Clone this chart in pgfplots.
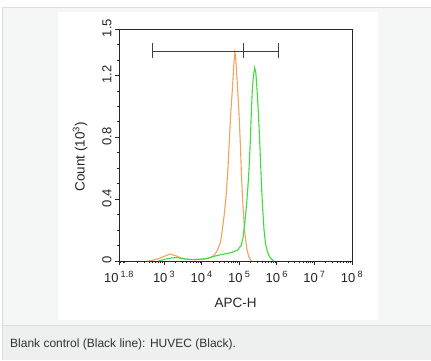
\documentclass[border=0pt]{standalone}
\usepackage{fontspec}
\setmainfont{Liberation Sans}
\usepackage{pgfplots}
\pgfplotsset{compat=1.18}
\definecolor{panelbg}{HTML}{F5F6F6}
\definecolor{panelline}{HTML}{DCDEDE}
\definecolor{capbg}{HTML}{EEEFEF}
\definecolor{orangecurve}{HTML}{F4A35E}
\definecolor{greencurve}{HTML}{3EDC3E}
\definecolor{txt}{HTML}{333333}
\begin{document}
\begin{tikzpicture}
\useasboundingbox (0pt,0pt) rectangle (431pt,360pt);
\fill[white] (0pt,0pt) rectangle (431pt,360pt);
% outer panel (image y 7..325)
\fill[panelbg] (2.5pt,35pt) rectangle (431pt,353pt);
\draw[panelline, line width=0.8pt] (2.5pt,35pt) -- (2.5pt,353pt) -- (431pt,353pt);
% caption band (image y 325..360)
\fill[capbg] (2.5pt,0pt) rectangle (431pt,35pt);
\draw[panelline, line width=0.8pt] (2.5pt,35pt) -- (431pt,35pt);
\draw[panelline, line width=0.8pt] (2.5pt,0pt) -- (2.5pt,35pt);
% white chart region (image x 58..378, y 12..320)
\fill[white] (58pt,40pt) rectangle (378pt,348pt);
\node[anchor=base west, text=txt, font=\fontsize{12}{14}\selectfont, inner sep=0pt] at (10pt,13pt) {Blank control (Black line): HUVEC (Black).};
\begin{axis}[
  at={(119pt,99pt)}, anchor=south west,
  scale only axis, width=233pt, height=232pt,
  xmode=log, xmin=63.0957, xmax=1e8,
  ymin=0, ymax=1.5,
  axis line style={black!85, line width=0.8pt},
  xtick={63.0957,1e3,1e4,1e5,1e6,1e7,1e8},
  xticklabels={10\,\textsuperscript{1.8},10\,\textsuperscript{3},10\,\textsuperscript{4},10\,\textsuperscript{5},10\,\textsuperscript{6},10\,\textsuperscript{7},10\,\textsuperscript{8}},
  minor xtick={70,80,90,200,300,400,500,600,700,800,900,2000,3000,4000,5000,6000,7000,8000,9000,2e4,3e4,4e4,5e4,6e4,7e4,8e4,9e4,2e5,3e5,4e5,5e5,6e5,7e5,8e5,9e5,2e6,3e6,4e6,5e6,6e6,7e6,8e6,9e6,2e7,3e7,4e7,5e7,6e7,7e7,8e7,9e7},
  ytick={0,0.4,0.8,1.2,1.5},
  yticklabels={0,0.4,0.8,1.2,1.5},
  minor ytick={0.1,0.2,0.3,0.5,0.6,0.7,0.9,1.0,1.1,1.3,1.4},
  tick align=outside,
  xtick pos=bottom, ytick pos=left,
  major tick length=4pt, minor tick length=2.2pt,
  tick style={black!85, line width=0.7pt},
  /pgf/number format/assume math mode=true,
  tick label style={font=\fontsize{13}{15}\selectfont, text=black!85},
  xticklabel style={yshift=-3pt},
  yticklabel style={rotate=90, anchor=south, xshift=1pt},
  xlabel={APC-H}, ylabel={Count (10\textsuperscript{3})},
  label style={font=\fontsize{13.5}{15}\selectfont, text=black!85},
  xlabel style={at={(axis description cs:0.5,-0.18)}, anchor=center},
  ylabel style={at={(axis description cs:-0.167,0.45)}, anchor=center},
  clip=false,
]
% orange curve
\addplot[orangecurve, line width=1.1pt] table[x expr=10^\thisrow{lx}, y=y] {
lx y
2.55 0
2.7 0.005
2.85 0.015
3.0 0.03
3.15 0.045
3.3 0.035
3.45 0.02
3.6 0.01
3.8 0.008
4.0 0.01
4.15 0.015
4.3 0.03
4.4 0.06
4.5 0.12
4.55 0.2
4.6 0.3
4.65 0.42
4.7 0.6
4.74 0.8
4.78 0.98
4.82 1.12
4.85 1.25
4.88 1.35
4.9 1.33
4.93 1.22
4.96 1.1
5.0 0.92
5.03 0.75
5.06 0.55
5.1 0.35
5.14 0.2
5.2 0.08
5.25 0.03
5.32 0
};
% green curve
\addplot[greencurve, line width=1.1pt] table[x expr=10^\thisrow{lx}, y=y] {
lx y
2.85 0
3.0 0.01
3.2 0.02
3.35 0.022
3.5 0.015
3.7 0.01
4.0 0.012
4.2 0.02
4.4 0.035
4.6 0.045
4.8 0.055
4.95 0.07
5.05 0.1
5.1 0.15
5.15 0.25
5.2 0.38
5.25 0.55
5.29 0.75
5.32 0.95
5.35 1.12
5.38 1.2
5.41 1.25
5.44 1.22
5.47 1.12
5.5 1.0
5.53 0.85
5.56 0.68
5.59 0.5
5.62 0.35
5.66 0.2
5.7 0.11
5.75 0.06
5.8 0.03
5.87 0.01
5.92 0
};
% gate bar
\addplot[black!75, line width=1pt] table[x expr=10^\thisrow{lx}, y=y] {
lx y
2.68 1.357
6.04 1.357
};
\addplot[black!75, line width=1pt] table[x expr=10^\thisrow{lx}, y=y] {
lx y
2.68 1.31
2.68 1.41
};
\addplot[black!75, line width=1pt] table[x expr=10^\thisrow{lx}, y=y] {
lx y
5.10 1.31
5.10 1.41
};
\addplot[black!75, line width=1pt] table[x expr=10^\thisrow{lx}, y=y] {
lx y
6.04 1.31
6.04 1.41
};
\end{axis}
\end{tikzpicture}
\end{document}
